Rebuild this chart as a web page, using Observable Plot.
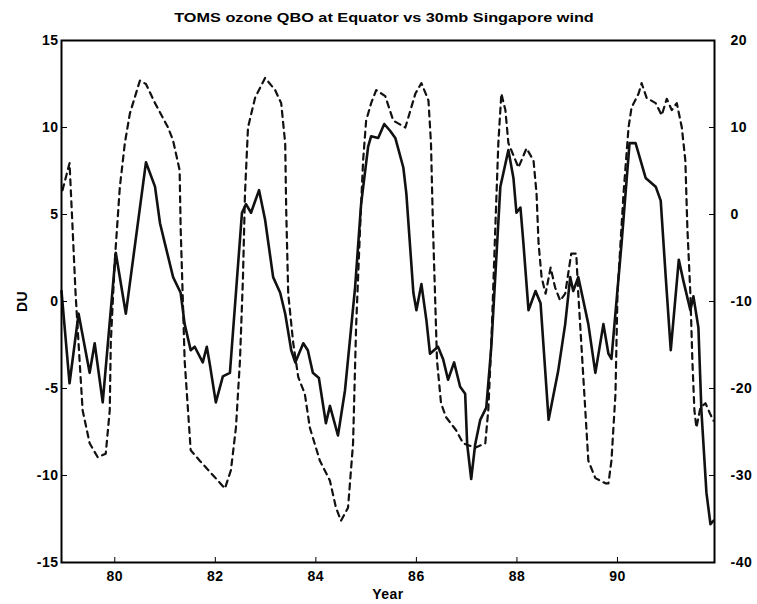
<!DOCTYPE html>
<html>
<head>
<meta charset="utf-8">
<script src="https://cdn.jsdelivr.net/npm/d3@7"></script>
<script src="https://cdn.jsdelivr.net/npm/@observablehq/plot@0.6"></script>
<style>
  body { margin: 0; background: #fff; }
  #head { position: relative; height: 30px; width: 757px; }
  #title { position: absolute; left: 384px; top: 11px; white-space: nowrap; transform: translateX(-50%) scaleX(1.25); font-family: "Liberation Sans", Arial, sans-serif; font-weight: bold; font-size: 13px; line-height: 14px; color: #000; }
  svg { display: block; }
</style>
</head>
<body>
<div id="head"><div id="title">TOMS ozone QBO at Equator vs 30mb Singapore wind</div></div>
<div id="chart"></div>
<script>
// Ozone QBO anomaly (DU), solid line
const ozoneYears = [78.94,79.10,79.28,79.50,79.60,79.76,80.02,80.22,80.62,80.80,80.90,81.00,81.16,81.31,81.39,81.51,81.59,81.75,81.83,81.89,82.01,82.15,82.29,82.41,82.53,82.61,82.71,82.87,82.99,83.15,83.29,83.39,83.51,83.59,83.75,83.84,83.94,84.06,84.20,84.28,84.44,84.58,84.78,84.90,85.04,85.10,85.24,85.36,85.48,85.58,85.74,85.80,85.94,86.00,86.10,86.20,86.27,86.43,86.53,86.63,86.75,86.87,86.97,87.01,87.09,87.17,87.27,87.39,87.49,87.67,87.83,87.93,87.99,88.07,88.13,88.23,88.37,88.47,88.63,88.82,88.96,89.06,89.12,89.22,89.28,89.42,89.56,89.72,89.82,89.88,90.08,90.24,90.36,90.56,90.76,90.86,90.96,91.06,91.22,91.31,91.45,91.51,91.61,91.67,91.77,91.85,91.91];
const ozoneDU = [0.6,-4.7,-0.7,-4.1,-2.4,-5.8,2.8,-0.7,8.0,6.6,4.5,3.3,1.4,0.5,-1.3,-2.8,-2.6,-3.5,-2.6,-3.6,-5.8,-4.3,-4.1,0.5,5.1,5.6,5.1,6.4,4.7,1.4,0.5,-0.7,-2.8,-3.5,-2.4,-2.8,-4.1,-4.4,-7.0,-6.0,-7.7,-5.1,0.8,5.6,8.9,9.5,9.4,10.2,9.8,9.4,7.7,6.2,0.5,-0.5,1.0,-1.1,-3.0,-2.6,-3.3,-4.5,-3.5,-4.9,-5.3,-8.2,-10.2,-8.2,-6.8,-6.1,-2.6,6.6,8.7,7.1,5.1,5.4,3.3,-0.5,0.6,-0.1,-6.8,-4.0,-1.3,1.4,0.6,1.4,0.6,-1.3,-4.1,-1.3,-3.0,-3.3,3.3,9.1,9.1,7.1,6.6,5.8,1.4,-2.8,2.4,1.2,-0.5,0.3,-1.5,-6.3,-11.0,-12.8,-12.6];

// 30mb Singapore wind (m/s), dashed line, right axis
const windYears = [78.96,79.10,79.16,79.22,79.30,79.36,79.50,79.66,79.82,79.90,79.92,80.00,80.10,80.20,80.30,80.50,80.62,80.80,81.06,81.16,81.29,81.31,81.35,81.39,81.51,81.69,81.99,82.19,82.31,82.41,82.49,82.55,82.59,82.65,82.79,82.99,83.19,83.31,83.39,83.41,83.45,83.55,83.65,83.78,83.88,84.08,84.28,84.40,84.50,84.64,84.74,84.80,84.88,84.94,85.00,85.10,85.20,85.38,85.54,85.78,85.98,86.10,86.24,86.29,86.33,86.37,86.41,86.49,86.59,86.79,86.93,87.17,87.37,87.43,87.49,87.57,87.63,87.69,87.77,87.83,88.03,88.19,88.33,88.39,88.43,88.49,88.57,88.67,88.76,88.86,88.96,89.08,89.18,89.22,89.28,89.36,89.42,89.56,89.76,89.82,89.88,89.96,90.00,90.12,90.22,90.28,90.42,90.48,90.58,90.76,90.88,90.98,91.08,91.18,91.28,91.35,91.39,91.45,91.49,91.53,91.57,91.65,91.75,91.85,91.91];
const windMS = [2.8,5.9,-1.5,-9.1,-16.8,-22.5,-26.3,-27.9,-27.5,-22.5,-14.8,-5.3,3.1,8.2,11.6,15.4,15.0,12.8,10.0,8.5,5.1,-1.5,-9.1,-16.8,-27.1,-28.3,-30.2,-31.5,-29.4,-24.5,-16.8,-7.2,2.4,10.0,13.4,15.7,14.3,12.8,8.2,0.5,-9.1,-14.8,-18.7,-20.6,-24.5,-28.3,-30.6,-33.7,-35.2,-33.7,-26.3,-13.0,-1.5,6.2,10.8,12.8,14.3,13.6,10.8,10.0,13.9,15.1,13.1,8.2,-1.5,-9.1,-16.8,-21.7,-23.3,-24.8,-26.3,-26.8,-26.3,-22.5,-14.8,-1.5,8.2,13.9,12.0,8.2,5.4,7.6,6.2,2.4,-3.3,-7.2,-9.1,-6.1,-8.4,-9.9,-9.1,-4.5,-4.5,-9.1,-14.8,-22.5,-28.3,-30.3,-30.9,-30.9,-28.3,-20.6,-9.1,2.4,10.0,12.3,13.9,15.1,13.4,12.8,11.4,13.3,12.0,12.8,10.0,6.2,-1.5,-9.1,-16.8,-22.5,-24.5,-22.2,-21.7,-23.0,-23.7];

const xTicks = [80, 82, 84, 86, 88, 90];
const duTicks = [-15, -10, -5, 0, 5, 10, 15];
const windTicks = [-40, -30, -20, -10, 0, 10, 20];

const ozone = ozoneYears.map((x, i) => ({x, v: ozoneDU[i]}));
const winds = windYears.map((x, i) => ({x, w: windMS[i]}));
// right axis: wind -40..20 maps onto DU -15..15
const windToDU = w => (w + 10) / 2;

const font = "Liberation Sans, Arial, sans-serif";
const chart = Plot.plot({
  width: 757,
  height: 574,
  marginTop: 10,
  marginLeft: 61,
  marginRight: 43,
  marginBottom: 42,
  style: {fontFamily: font, fontWeight: "bold", fontSize: "14px", background: "#fff", color: "#000", letterSpacing: "0.5px"},
  x: {domain: [78.94, 91.93]},
  y: {domain: [-15, 15]},
  marks: [
    Plot.line(winds, {x: "x", y: d => windToDU(d.w), stroke: "#111", strokeWidth: 2.2, strokeDasharray: "6,5"}),
    Plot.line(ozone, {x: "x", y: "v", stroke: "#111", strokeWidth: 2.6}),
    Plot.frame({stroke: "#000", strokeWidth: 2}),
    Plot.axisX({ticks: xTicks, tickFormat: d => String(d), tickSize: -5, tickPadding: 14, label: "Year", labelAnchor: "center", labelArrow: "none", labelOffset: 36, fontSize: 14}),
    Plot.axisY({ticks: duTicks, tickFormat: d => String(d), tickSize: -6, tickPadding: 9, label: "DU", labelAnchor: "center", labelArrow: "none", labelOffset: 44, fontSize: 14}),
    Plot.axisY({anchor: "right", ticks: windTicks.map(windToDU), tickFormat: d => String(2 * d - 10), tickSize: -6, tickPadding: 22, label: null, fontSize: 14})
  ]
});
document.getElementById("chart").appendChild(chart);
</script>
</body>
</html>
